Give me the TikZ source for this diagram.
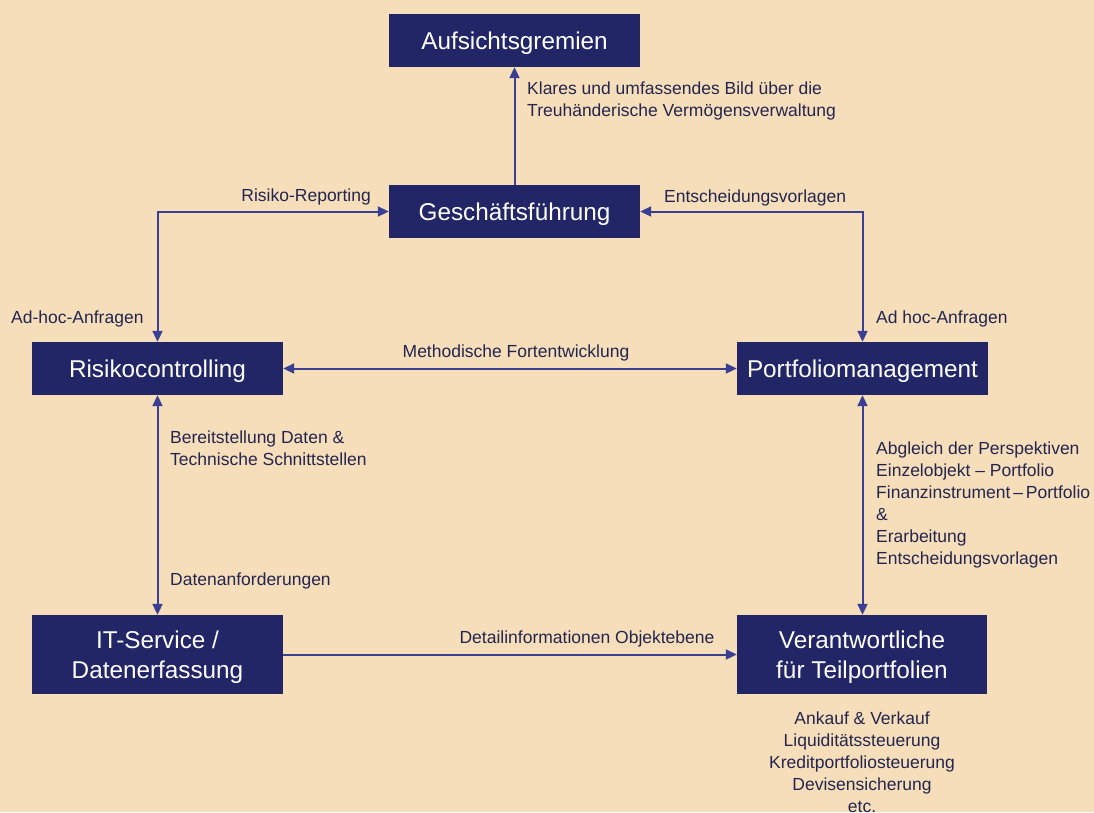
\documentclass[tikz,border=0pt]{standalone}
\usepackage{fontspec}
\setmainfont{Liberation Sans}
\usetikzlibrary{arrows.meta}
\definecolor{bg}{HTML}{F6DEBA}
\definecolor{boxc}{HTML}{222667}
\definecolor{linec}{HTML}{3B3F94}
\definecolor{txtc}{HTML}{23254F}
\begin{document}
\begin{tikzpicture}[x=1pt,y=-1pt,
  box/.style={fill=boxc,text=white,minimum width=251pt,minimum height=53pt,inner sep=0pt,align=center,text depth=0pt,font=\fontsize{24.3}{30}\selectfont},
  lbl/.style={text=txtc,inner sep=0pt,align=left,font=\fontsize{17.5}{22}\selectfont},
  conn/.style={draw=linec,line width=2pt},
  tip/.style={-{Triangle[length=11pt,width=10pt]}},
  both/.style={{Triangle[length=11pt,width=10pt]}-{Triangle[length=11pt,width=10pt]}}]
\fill[bg] (0,0) rectangle (1094,812);
\useasboundingbox (0,0) rectangle (1094,812);
\node[box] (auf) at (514.5,40.5) {Aufsichtsgremien};
\node[box] (gf) at (514.5,211.5) {Geschäftsführung};
\node[box] (rc) at (157.5,368.5) {Risikocontrolling};
\node[box] (pm) at (862.5,368.5) {Portfoliomanagement};
\node[box,minimum height=79pt] (it) at (157.5,654.5) {IT-Service /\\Datenerfassung};
\node[box,minimum height=79pt,minimum width=250pt] (vt) at (862,654.5) {Verantwortliche\\für Teilportfolien};
% connectors
\draw[conn,tip] (gf.north) -- (auf.south);
\draw[conn,both] (rc.north) |- (gf.west);
\draw[conn,both] (pm.north) |- (gf.east);
\draw[conn,both] (rc.east) -- (pm.west);
\draw[conn,both] (rc.south) -- (it.north);
\draw[conn,both] (pm.south) -- (pm.south |- vt.north);
\draw[conn,tip] (it.east) -- (vt.west);
% labels
\node[lbl,anchor=west] (l1) at (527,101) {Klares und umfassendes Bild über die\\Treuhänderische Vermögensverwaltung};
\node[lbl,anchor=east] (l2) at (371,197) {Risiko-Reporting};
\node[lbl,anchor=west] (l3) at (664,198) {Entscheidungsvorlagen};
\node[lbl,anchor=west] (l4) at (11,319) {Ad-hoc-Anfragen};
\node[lbl,anchor=west] (l5) at (876,319) {Ad hoc-Anfragen};
\node[lbl] (l6) at (516,353) {Methodische Fortentwicklung};
\node[lbl,anchor=west] (l7) at (170,448) {Bereitstellung Daten \&\\Technische Schnittstellen};
\node[lbl,anchor=west] (l8) at (170,581) {Datenanforderungen};
\node[lbl,anchor=west] (l9) at (876,505) {Abgleich der Perspektiven\\Einzelobjekt – Portfolio\\Finanzinstrument\,–\,Portfolio\\\&\\Erarbeitung\\Entscheidungsvorlagen};
\node[lbl] (l10) at (587,639) {Detailinformationen Objektebene};
\node[lbl,align=center,anchor=north] (l11) at (862,712) {Ankauf \& Verkauf\\Liquiditätssteuerung\\Kreditportfoliosteuerung\\Devisensicherung\\etc.};
\end{tikzpicture}
\end{document}
